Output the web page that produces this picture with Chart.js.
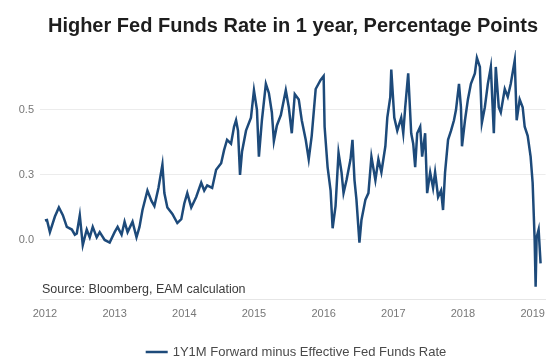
<!DOCTYPE html>
<html>
<head>
<meta charset="utf-8">
<script src="https://cdn.jsdelivr.net/npm/chart.js@4.4.1/dist/chart.umd.min.js"></script>
<style>
  html, body { margin: 0; padding: 0; background: #ffffff; }
  #wrap { width: 553px; height: 360px; }
</style>
</head>
<body>
<div id="wrap"><canvas id="c" width="553" height="360"></canvas></div>
<script>
// ---- Data ----
const seriesLabel = "1Y1M Forward minus Effective Fed Funds Rate";
const chartTitle = "Higher Fed Funds Rate in 1 year, Percentage Points";
const sourceNote = "Source: Bloomberg, EAM calculation";

// decimal years
const dates = [
  2012.000, 2012.029, 2012.071, 2012.143, 2012.200, 2012.257, 2012.314, 2012.386, 2012.429, 2012.457,
  2012.500, 2012.543, 2012.600, 2012.643, 2012.686, 2012.743, 2012.786, 2012.857, 2012.929, 2013.000,
  2013.043, 2013.100, 2013.143, 2013.186, 2013.257, 2013.314, 2013.357, 2013.400, 2013.471, 2013.529,
  2013.571, 2013.629, 2013.686, 2013.714, 2013.757, 2013.829, 2013.900, 2013.957, 2014.000, 2014.043,
  2014.100, 2014.171, 2014.243, 2014.286, 2014.329, 2014.400, 2014.457, 2014.529, 2014.571, 2014.614,
  2014.671, 2014.714, 2014.743, 2014.771, 2014.800, 2014.829, 2014.886, 2014.957, 2015.000, 2015.043,
  2015.071, 2015.114, 2015.171, 2015.214, 2015.257, 2015.286, 2015.329, 2015.386, 2015.457, 2015.500,
  2015.543, 2015.586, 2015.643, 2015.686, 2015.743, 2015.786, 2015.829, 2015.886, 2015.957, 2016.000,
  2016.014, 2016.057, 2016.100, 2016.129, 2016.171, 2016.214, 2016.257, 2016.286, 2016.329, 2016.386,
  2016.414, 2016.443, 2016.471, 2016.514, 2016.543, 2016.600, 2016.643, 2016.686, 2016.743, 2016.786,
  2016.829, 2016.886, 2016.914, 2016.957, 2016.971, 2017.014, 2017.057, 2017.114, 2017.143, 2017.171,
  2017.214, 2017.257, 2017.286, 2017.314, 2017.343, 2017.386, 2017.414, 2017.457, 2017.486, 2017.529,
  2017.571, 2017.600, 2017.643, 2017.686, 2017.714, 2017.743, 2017.786, 2017.829, 2017.871, 2017.900,
  2017.943, 2017.971, 2017.986, 2018.029, 2018.071, 2018.114, 2018.171, 2018.200, 2018.243, 2018.271,
  2018.314, 2018.357, 2018.400, 2018.443, 2018.471, 2018.514, 2018.543, 2018.600, 2018.643, 2018.686,
  2018.743, 2018.771, 2018.814, 2018.857, 2018.886, 2018.929, 2018.971, 2019.000, 2019.029, 2019.043,
  2019.057, 2019.086, 2019.114
];

const values = [
  0.075, 0.077, 0.030, 0.090, 0.125, 0.095, 0.050, 0.040, 0.020, 0.025,
  0.095, -0.020, 0.040, 0.010, 0.050, 0.010, 0.030, 0.000, -0.010, 0.030,
  0.050, 0.020, 0.070, 0.030, 0.070, 0.010, 0.050, 0.115, 0.190, 0.150,
  0.130, 0.200, 0.290, 0.180, 0.125, 0.100, 0.065, 0.080, 0.140, 0.180,
  0.125, 0.165, 0.220, 0.190, 0.210, 0.200, 0.270, 0.295, 0.345, 0.385,
  0.370, 0.435, 0.460, 0.420, 0.250, 0.340, 0.420, 0.470, 0.575, 0.500,
  0.320, 0.460, 0.600, 0.565, 0.490, 0.380, 0.440, 0.480, 0.575, 0.510,
  0.410, 0.560, 0.540, 0.460, 0.385, 0.310, 0.400, 0.580, 0.615, 0.630,
  0.435, 0.280, 0.190, 0.045, 0.130, 0.335, 0.260, 0.180, 0.230, 0.310,
  0.385, 0.230, 0.155, -0.010, 0.077, 0.155, 0.180, 0.320, 0.230, 0.310,
  0.260, 0.360, 0.470, 0.550, 0.655, 0.470, 0.420, 0.470, 0.410, 0.510,
  0.640, 0.410, 0.370, 0.280, 0.410, 0.435, 0.320, 0.410, 0.180, 0.260,
  0.200, 0.260, 0.165, 0.190, 0.115, 0.260, 0.385, 0.420, 0.460, 0.500,
  0.600, 0.510, 0.360, 0.460, 0.540, 0.600, 0.640, 0.700, 0.665, 0.450,
  0.510, 0.600, 0.665, 0.410, 0.665, 0.510, 0.490, 0.580, 0.550, 0.600,
  0.690, 0.460, 0.540, 0.510, 0.435, 0.400, 0.320, 0.220, 0.000, -0.180,
  0.010, 0.040, -0.090
];

const xTickYears = [2012, 2013, 2014, 2015, 2016, 2017, 2018, 2019];
const xTickLabels = ["2012", "2013", "2014", "2015", "2016", "2017", "2018", "2019"];
const yTickValues = [0, 0.25, 0.5];
const yTickLabels = ["0.0", "0.3", "0.5"];

// ---- Chart ----
const points = dates.map((d, i) => ({ x: d, y: values[i] }));
const FONT = "'Liberation Sans', Arial, sans-serif";
const LINE_COLOR = '#1d4a7a';

// Title, source note and legend drawn as canvas text (layout matches the reference,
// whose title/legend are centred slightly right of the canvas centre).
const textPlugin = {
  id: 'textDecor',
  afterDraw(chart) {
    const { ctx, chartArea } = chart;
    ctx.save();
    // title
    ctx.font = "bold 20px " + FONT;
    ctx.fillStyle = "#1e1e1e";
    ctx.textAlign = "center";
    ctx.textBaseline = "middle";
    ctx.fillText(chartTitle, 293, 26);
    // source note inside plot area
    ctx.font = "12.5px " + FONT;
    ctx.fillStyle = "#3a3a3a";
    ctx.textAlign = "left";
    ctx.fillText(sourceNote, chartArea.left + 2, chartArea.bottom - 9);
    // legend
    ctx.font = "13px " + FONT;
    const tw = ctx.measureText(seriesLabel).width;
    const total = 22 + 5 + tw;
    const x0 = 296 - total / 2;
    const ly = 352;
    ctx.strokeStyle = LINE_COLOR;
    ctx.lineWidth = 2.5;
    ctx.beginPath();
    ctx.moveTo(x0, ly);
    ctx.lineTo(x0 + 22, ly);
    ctx.stroke();
    ctx.fillStyle = "#4a4a4a";
    ctx.fillText(seriesLabel, x0 + 27, ly);
    ctx.restore();
  }
};

new Chart(document.getElementById('c'), {
  type: 'line',
  data: {
    datasets: [{
      label: seriesLabel,
      data: points,
      borderColor: LINE_COLOR,
      backgroundColor: LINE_COLOR,
      borderWidth: 2.5,
      pointRadius: 0,
      tension: 0,
      fill: false
    }]
  },
  options: {
    responsive: false,
    animation: false,
    devicePixelRatio: 1,
    layout: { padding: { left: 0, right: 5, top: 50, bottom: 20 } },
    plugins: {
      title: { display: false },
      legend: { display: false },
      tooltip: { enabled: false }
    },
    scales: {
      x: {
        type: 'linear',
        min: 2011.929,
        max: 2019.186,
        afterBuildTicks: (s) => { s.ticks = xTickYears.map(v => ({ value: v })); },
        afterFit: (s) => { s.height = 41; },
        ticks: {
          color: '#777777',
          font: { family: FONT, size: 11 },
          padding: 8,
          maxRotation: 0,
          callback: (v) => { const i = xTickYears.indexOf(v); return i >= 0 ? xTickLabels[i] : ''; }
        },
        grid: { display: false, drawTicks: false },
        border: { display: true, color: '#e6e6e6', width: 1 }
      },
      y: {
        type: 'linear',
        min: -0.227,
        max: 0.73,
        afterBuildTicks: (s) => { s.ticks = yTickValues.map(v => ({ value: v })); },
        afterFit: (s) => { s.width = 40; },
        ticks: {
          color: '#777777',
          font: { family: FONT, size: 11 },
          padding: 6,
          callback: (v) => { const i = yTickValues.indexOf(v); return i >= 0 ? yTickLabels[i] : ''; }
        },
        grid: { color: '#ececec', lineWidth: 1, drawTicks: false },
        border: { display: false }
      }
    }
  },
  plugins: [textPlugin]
});
</script>
</body>
</html>
